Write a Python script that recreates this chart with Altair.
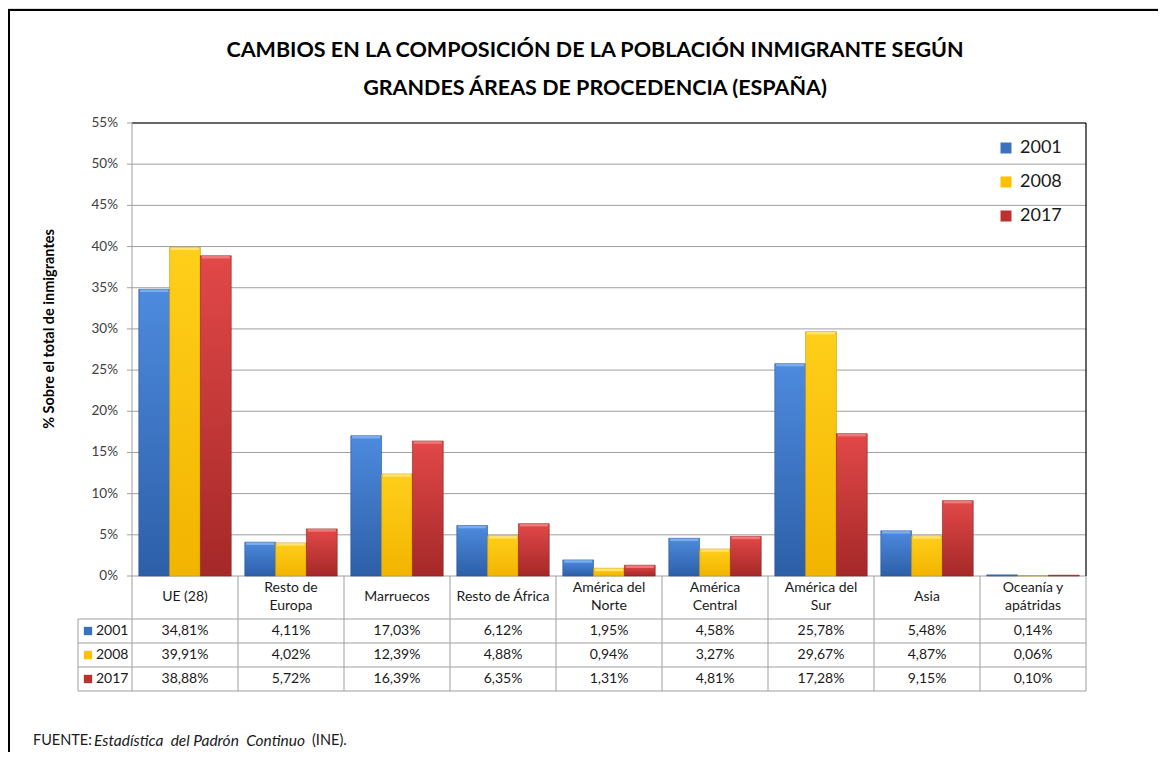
import altair as alt
import pandas as pd

# ---------------- data ----------------
categories = ["UE (28)", "Resto de Europa", "Marruecos", "Resto de África",
              "América del Norte", "América Central", "América del Sur",
              "Asia", "Oceanía y apátridas"]
header_labels = ["UE (28)", "Resto de\nEuropa", "Marruecos", "Resto de África",
                 "América del\nNorte", "América\nCentral", "América del\nSur",
                 "Asia", "Oceanía y\napátridas"]
years = ["2001", "2008", "2017"]
values_2001 = [34.81, 4.11, 17.03, 6.12, 1.95, 4.58, 25.78, 5.48, 0.14]
values_2008 = [39.91, 4.02, 12.39, 4.88, 0.94, 3.27, 29.67, 4.87, 0.06]
values_2017 = [38.88, 5.72, 16.39, 6.35, 1.31, 4.81, 17.28, 9.15, 0.10]
y_ticks = [0, 5, 10, 15, 20, 25, 30, 35, 40, 45, 50, 55]

title_text = ("CAMBIOS EN LA COMPOSICIÓN DE LA POBLACIÓN INMIGRANTE SEGÚN\n"
              "GRANDES ÁREAS DE PROCEDENCIA (ESPAÑA)")
y_title = "% Sobre el total de inmigrantes"
source_a = "FUENTE:"
source_b = "Estadística\u00a0\u00a0del Padrón\u00a0\u00a0Continuo"
source_c = "(INE)."

# ---------------- styles ----------------
FONT = "Lato"
square_colors = ["#3a72c0", "#ffc000", "#c0302f"]
grad_stops = {
    "2001": ("#4d8ade", "#2d5fa8"),
    "2008": ("#ffcf1a", "#f2b400"),
    "2017": ("#e24848", "#a52828"),
}
cap_colors = {"2001": "#7fb0f0", "2008": "#ffe680", "2017": "#f28080"}
edge_colors = {"2001": "#2a5596", "2008": "#c99700", "2017": "#8c2020"}
GRID = "#9f9f9f"

W, H = 1150, 744
X_RANGE = [124, 1078]
Y_RANGE = [568, 115]
ROW_RANGE = [611, 683]

rows = []
for yr, vals in zip(years, [values_2001, values_2008, values_2017]):
    for c, v in zip(categories, vals):
        rows.append({"cat": c, "year": yr, "value": v,
                     "label": f"{v:.2f}".replace(".", ",") + "%"})
df = pd.DataFrame(rows)
df_ticks = pd.DataFrame({"tick": y_ticks,
                         "tlabel": [f"{t}%" for t in y_ticks]})
df_cats = pd.DataFrame({"cat": categories, "header": header_labels})
df_cats["two"] = df_cats["header"].str.contains("\n")
df_years = pd.DataFrame({"year": years})
one = pd.DataFrame({"k": [0]})

xs = alt.Scale(type="band", domain=categories, range=X_RANGE,
               paddingInner=0, paddingOuter=0)
ys = alt.Scale(domain=[0, 55], range=Y_RANGE, nice=False, zero=True)
rs = alt.Scale(type="band", domain=years, range=ROW_RANGE,
               paddingInner=0, paddingOuter=0)
xo = alt.Scale(domain=years, paddingInner=0, paddingOuter=0.22)

X = alt.X("cat:N", scale=xs, axis=None)
Y = alt.Y("value:Q", scale=ys, axis=None)
YT = alt.Y("tick:Q", scale=ys, axis=None)
R = alt.Y("year:N", scale=rs, axis=None)
XO = alt.XOffset("year:N", scale=xo)

layers = []

# frame
layers.append(alt.Chart(one).mark_rule(color="#000000", strokeWidth=2).encode(
    x=alt.value(0), x2=alt.value(W), y=alt.value(2)))
layers.append(alt.Chart(one).mark_rule(color="#000000", strokeWidth=2).encode(
    x=alt.value(1), y=alt.value(2), y2=alt.value(H)))

# gridlines
layers.append(alt.Chart(df_ticks).mark_rule(color=GRID, strokeWidth=1).encode(
    y=YT, x=alt.value(X_RANGE[0]), x2=alt.value(X_RANGE[1])))
# axis ticks
layers.append(alt.Chart(df_ticks).mark_rule(color=GRID, strokeWidth=1).encode(
    y=YT, x=alt.value(X_RANGE[0] - 5), x2=alt.value(X_RANGE[0])))
# top border of plot area
layers.append(alt.Chart(one).mark_rule(color="#000000", strokeWidth=1.2).encode(
    y=alt.value(Y_RANGE[1]), x=alt.value(X_RANGE[0]), x2=alt.value(X_RANGE[1])))
# right border
layers.append(alt.Chart(one).mark_rule(color="#000000", strokeWidth=1.2).encode(
    x=alt.value(X_RANGE[1]), y=alt.value(Y_RANGE[1]), y2=alt.value(Y_RANGE[0])))

# bars with gradients
for yr in years:
    top, bot = grad_stops[yr]
    grad = alt.Gradient(gradient="linear",
                        stops=[alt.GradientStop(color=top, offset=0),
                               alt.GradientStop(color=bot, offset=1)],
                        x1=0, x2=0, y1=0, y2=1)
    base = alt.Chart(df).transform_filter(alt.datum.year == yr)
    layers.append(base.mark_bar(fill=grad, stroke=edge_colors[yr],
                                strokeWidth=0.6).encode(x=X, xOffset=XO, y=Y))
    layers.append(base.transform_filter(alt.datum.value > 0.5).mark_tick(
        color=cap_colors[yr], thickness=2.5, size=28,
        yOffset=1.5, opacity=0.9).encode(x=X, xOffset=XO, y=Y))

# table grid
layers.append(alt.Chart(df_cats).mark_rule(color=GRID).encode(
    x=alt.X("cat:N", scale=xs, axis=None, bandPosition=0),
    y=alt.value(Y_RANGE[0]), y2=alt.value(ROW_RANGE[1])))
layers.append(alt.Chart(one).mark_rule(color=GRID).encode(
    x=alt.value(X_RANGE[1]), y=alt.value(Y_RANGE[0]), y2=alt.value(ROW_RANGE[1])))
layers.append(alt.Chart(one).mark_rule(color=GRID).encode(
    x=alt.value(X_RANGE[0]), y=alt.value(Y_RANGE[1]), y2=alt.value(Y_RANGE[0])))
layers.append(alt.Chart(df_years).mark_rule(color=GRID).encode(
    y=alt.Y("year:N", scale=rs, axis=None, bandPosition=0),
    x=alt.value(70), x2=alt.value(X_RANGE[1])))
layers.append(alt.Chart(one).mark_rule(color=GRID).encode(
    y=alt.value(ROW_RANGE[1]), x=alt.value(70), x2=alt.value(X_RANGE[1])))
layers.append(alt.Chart(one).mark_rule(color=GRID).encode(
    x=alt.value(70), y=alt.value(ROW_RANGE[0]), y2=alt.value(ROW_RANGE[1])))

# y labels
layers.append(alt.Chart(df_ticks).mark_text(
    align="right", baseline="middle", font=FONT, fontSize=13.5,
    color="#404040").encode(y=YT, x=alt.value(110), text="tlabel:N"))

# y title
layers.append(alt.Chart(one).mark_text(
    angle=270, font=FONT, fontSize=14.5, fontWeight="bold", color="#000000",
    align="center", baseline="middle").encode(
    x=alt.value(42), y=alt.value(321), text=alt.value(y_title)))

# header labels (one-line and two-line)
layers.append(alt.Chart(df_cats).transform_filter("!datum.two").mark_text(
    font=FONT, fontSize=14, baseline="middle",
    color="#1a1a1a").encode(x=X, y=alt.value(589), text="header:N"))
layers.append(alt.Chart(df_cats).transform_filter("datum.two").mark_text(
    font=FONT, fontSize=14, lineBreak="\n", lineHeight=18, baseline="middle",
    color="#1a1a1a").encode(x=X, y=alt.value(580), text="header:N"))

# table values
layers.append(alt.Chart(df).mark_text(
    font=FONT, fontSize=14, baseline="middle", color="#1a1a1a").encode(
    x=X, y=R, text="label:N"))

# row labels
layers.append(alt.Chart(df_years).mark_text(
    font=FONT, fontSize=14, baseline="middle", align="left",
    color="#1a1a1a").encode(x=alt.value(88), y=R, text="year:N"))
layers.append(alt.Chart(df_years).mark_square(size=70, opacity=1).encode(
    x=alt.value(80), y=R,
    color=alt.Color("year:N", scale=alt.Scale(domain=years, range=square_colors),
                    legend=alt.Legend(orient="none", legendX=989, legendY=131,
                                      title=None, symbolType="square",
                                      symbolSize=121, symbolStrokeWidth=0,
                                      labelFont=FONT, labelFontSize=18,
                                      labelColor="#1a1a1a", labelOffset=5,
                                      rowPadding=16, padding=0))))

# title
layers.append(alt.Chart(one).mark_text(
    font=FONT, fontSize=21.5, fontWeight="bold", lineBreak="\n", lineHeight=38,
    align="center", baseline="middle", color="#000000").encode(
    x=alt.value(587), y=alt.value(43), text=alt.value(title_text)))

# source
layers.append(alt.Chart(one).mark_text(
    font=FONT, fontSize=14.5, align="left", baseline="middle",
    color="#1a1a1a").encode(x=alt.value(25), y=alt.value(733),
                            text=alt.value(source_a)))
layers.append(alt.Chart(one).mark_text(
    font=FONT, fontSize=15.5, align="left", baseline="middle", fontStyle="italic",
    color="#1a1a1a").encode(x=alt.value(86), y=alt.value(733),
                            text=alt.value(source_b)))
layers.append(alt.Chart(one).mark_text(
    font=FONT, fontSize=14.5, align="left", baseline="middle",
    color="#1a1a1a").encode(x=alt.value(304), y=alt.value(733),
                            text=alt.value(source_c)))

chart = alt.layer(*layers).resolve_scale(y="independent").properties(
    width=W, height=H, padding=0,
    autosize=alt.AutoSizeParams(type="none")
).configure_view(strokeWidth=0).configure(background="#ffffff")

chart.save("out.html", embed_options={"renderer": "svg", "actions": False})
